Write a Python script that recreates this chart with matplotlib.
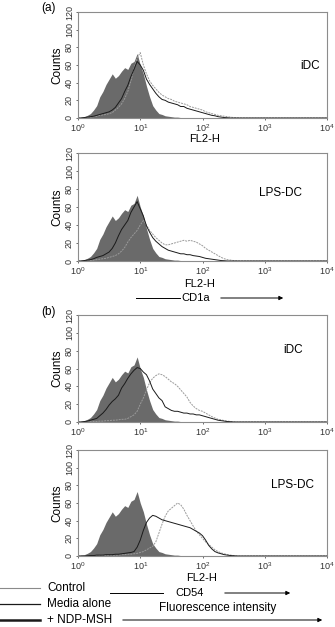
import numpy as np
import matplotlib
matplotlib.use("Agg")
import matplotlib.pyplot as plt

plt.rcParams['font.family'] = ['Liberation Sans', 'DejaVu Sans']
plt.rcParams['mathtext.default'] = 'regular'

# histogram grid: log10 of FL2-H, 0.05 decade bins
step = 0.05
nbins = 81

# filled control histogram (same in every panel)
control = [0.5, 1, 1.5, 3, 5, 9, 14, 24, 30, 38, 44, 50, 45, 48, 53, 57, 55, 62, 64, 73,
           60, 50, 36, 24, 14, 9, 5, 4, 2.5, 2, 1.5, 1, 1, 0.5, 0.5, 0.3]

# CD1a, iDC
a_idc_media = [0, 0, 0.5, 1, 1.5, 2, 3, 4, 5, 6, 7, 9, 12, 17, 22, 30, 37, 47, 55, 64,
               60, 54, 44, 38, 33, 28, 24, 21, 20, 18, 17, 16, 15, 13, 13, 11, 10, 9, 8, 7,
               6, 5, 4, 3, 2.5, 1.5, 1, 0.5, 0.3]
a_idc_ndp = [0, 0, 0, 0.5, 1, 1.5, 2, 3, 3.5, 4, 5, 6, 9, 12, 16, 22, 30, 42, 56, 68,
             74, 60, 50, 42, 37, 33, 29, 26, 24, 22, 21, 19, 18, 17, 16, 15, 13, 12, 11, 10,
             9, 7, 6, 5, 4, 3, 2.5, 2, 1.5, 1, 0.5, 0.3]

# CD1a, LPS-DC
a_lps_media = [0, 0, 0.5, 1, 1.5, 2.5, 4, 5, 6, 8, 10, 14, 20, 28, 35, 40, 45, 54, 60, 66,
               58, 50, 39, 32, 26, 22, 19, 16, 14, 12, 11, 10, 9, 8, 8, 7, 7, 6, 5.5, 5,
               4, 3, 2.5, 2, 1.5, 1, 0.5, 0.3]
a_lps_ndp = [0, 0, 0, 0.3, 0.5, 1, 1.5, 2, 2.5, 3, 4, 5, 6, 8, 11, 15, 21, 26, 30, 34,
             40, 45, 40, 34, 30, 26, 23, 20, 18, 18, 19, 20, 21, 22, 23, 22, 23, 22, 21, 19,
             17, 14, 12, 10, 8, 6, 4, 2.5, 1.5, 1, 0.5, 0.2]

# CD54, iDC
b_idc_media = [0, 0, 0.5, 1, 2, 3, 4, 7, 10, 14, 19, 23, 26, 30, 38, 43, 49, 54, 58, 61,
               60, 56, 53, 46, 37, 32, 27, 24, 17, 15, 13, 12, 12, 11, 10, 10, 9, 9, 8, 8,
               7, 6, 5, 4, 3, 2, 1.5, 1, 0.5, 0.3]
b_idc_ndp = [0, 0, 0, 0, 0.3, 0.5, 0.5, 1, 1, 1.5, 1.5, 2, 2, 2.5, 3, 3, 4, 6, 8, 12,
             20, 27, 36, 44, 49, 52, 54, 53, 51, 48, 45, 43, 40, 36, 32, 28, 22, 18, 15, 13,
             12, 10, 8, 6, 4.5, 3, 2.5, 1.5, 1, 0.5, 0.3]

# CD54, LPS-DC
b_lps_media = [0, 0, 0, 0.3, 0.5, 0.5, 1, 1, 1, 1.5, 1.5, 1.5, 2, 2, 2.5, 3, 3.5, 4, 5, 10,
               18, 29, 38, 43, 46, 45, 43, 41, 40, 39, 38, 37, 36, 35, 34, 33, 32, 30, 28, 26,
               23, 18, 12, 8, 5, 3.5, 2.5, 1.5, 1, 0.5, 0.3]
b_lps_ndp = [0, 0, 0, 0, 0, 0, 0.3, 0.5, 0.5, 0.5, 1, 1, 1, 1, 1.5, 1.5, 2, 2, 2.5, 3,
             4, 5, 7, 9, 11, 16, 26, 36, 45, 51, 54, 57, 60, 58, 53, 46, 40, 34, 28, 24,
             20, 16, 13, 10, 7, 5, 3.5, 2.5, 1.5, 1, 0.5, 0.3]

# name, media, ndp, name position, FL2-H label position (pixels)
panels = [
    ("iDC", a_idc_media, a_idc_ndp, (310, 66), (205, 139)),
    ("LPS-DC", a_lps_media, a_lps_ndp, (280, 193), (200, 284)),
    ("iDC", b_idc_media, b_idc_ndp, (293, 350), None),
    ("LPS-DC", b_lps_media, b_lps_ndp, (293, 485), (202, 578)),
]
# axes boxes in pixels: top, bottom
boxes = [(12, 118), (153, 261), (315, 422), (450, 556)]

W, H = 335, 627
fig = plt.figure(figsize=(W / 100, H / 100), dpi=100)

def fx(x):
    return x / W

def fy(y):
    return 1 - y / H

x = 10 ** (np.arange(nbins) * step)

def pad(v):
    v = np.asarray(v, dtype=float)
    return np.concatenate([v, np.zeros(nbins - len(v))])

for (name, media, ndp, tpos, xlab), (top, bot) in zip(panels, boxes):
    ax = fig.add_axes([fx(78), fy(bot), fx(327) - fx(78), (bot - top) / H])
    ax.fill_between(x, pad(control), color='#6a6a6a', lw=0)
    ax.plot(x, pad(ndp), color='#9a9a9a', lw=0.7, ls=(0, (2, 1)))
    ax.plot(x, pad(media), color='#1a1a1a', lw=0.7)
    ax.set_xscale('log')
    ax.set_xlim(1, 1e4)
    ax.set_ylim(0, 120)
    ax.set_xticks([1, 10, 100, 1000, 10000])
    ax.set_xticklabels([r'$10^0$', r'$10^1$', r'$10^2$', r'$10^3$', r'$10^4$'])
    ax.minorticks_off()
    ax.set_yticks(range(0, 121, 20))
    ax.set_yticklabels([str(v) for v in range(0, 121, 20)], rotation=90, va='center')
    ax.tick_params(labelsize=6.5, length=1.5, width=0.5, pad=1.5, colors='#333333')
    for s in ax.spines.values():
        s.set_color('#8c8c8c')
        s.set_linewidth(0.8)
    ax.set_ylabel('Counts', fontsize=8.5, labelpad=1)
    if xlab:
        fig.text(fx(xlab[0]), fy(xlab[1]), 'FL2-H', fontsize=8, ha='center', va='center')
    fig.text(fx(tpos[0]), fy(tpos[1]), name, fontsize=8.5, ha='center', va='center')

fig.text(fx(48), fy(8), '(a)', fontsize=8.5, ha='center', va='center')
fig.text(fx(48), fy(312), '(b)', fontsize=8.5, ha='center', va='center')

def arrow_label(text, y, x0, x1, x2, x3, xt):
    line = plt.Line2D([fx(x0), fx(x1)], [fy(y), fy(y)], transform=fig.transFigure,
                      color='black', lw=0.7)
    fig.add_artist(line)
    fig.text(fx(xt), fy(y), text, fontsize=8, ha='center', va='center')
    fig.add_artist(matplotlib.patches.FancyArrowPatch(
        (fx(x2), fy(y)), (fx(x3), fy(y)), transform=fig.transFigure,
        arrowstyle='-|>', mutation_scale=6, color='black', lw=0.7))

arrow_label('CD1a', 298, 136, 180, 218, 286, 196)
arrow_label('CD54', 593, 110, 163, 222, 293, 190)

fig.text(fx(218), fy(608), 'Fluorescence intensity', fontsize=8.5, ha='center', va='center')
fig.add_artist(matplotlib.patches.FancyArrowPatch(
    (fx(120), fy(620)), (fx(325), fy(620)), transform=fig.transFigure,
    arrowstyle='-|>', mutation_scale=6, color='black', lw=0.7))

legend_items = [('Control', '#8a8a8a', 0.8, 588), ('Media alone', '#1a1a1a', 0.9, 604),
                ('+ NDP-MSH', '#1a1a1a', 1.8, 620)]
for label, col, lw, y in legend_items:
    fig.add_artist(plt.Line2D([fx(0), fx(40)], [fy(y), fy(y)], transform=fig.transFigure,
                              color=col, lw=lw))
    fig.text(fx(47), fy(y), label, fontsize=8.5, ha='left', va='center')

fig.savefig('out.png', dpi=100)
